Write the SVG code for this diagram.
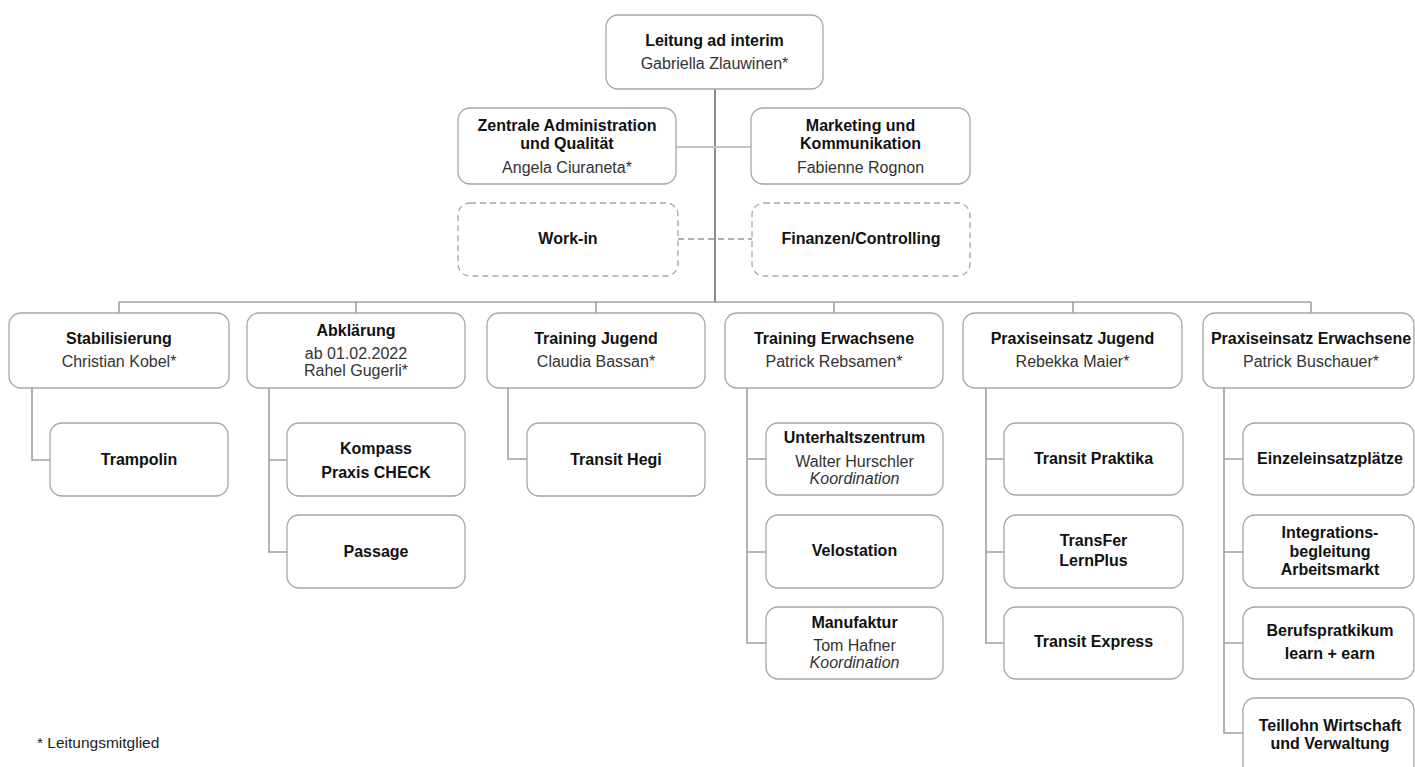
<svg xmlns="http://www.w3.org/2000/svg" width="1415" height="767" viewBox="0 0 1415 767">
<style>
.box{fill:#fff;stroke:#a6a6a6;stroke-width:1.3}
.dbox{fill:#fff;stroke:#a6a6a6;stroke-width:1.3;stroke-dasharray:6 4}
text{font-family:"Liberation Sans",Arial,sans-serif;font-size:16px;text-anchor:middle}
.b{font-weight:bold;fill:#111}
.n{fill:#333}
.i{fill:#333;font-style:italic}
.ln{fill:none;stroke:#a0a0a0;stroke-width:1.6}
</style>
<rect width="1415" height="767" fill="#fff"/>
<g id="connectors">
<path d="M715 89V302" fill="none" stroke="#8c8c8c" stroke-width="2"/>
<path d="M676 147H751" fill="none" stroke="#c4c4c4" stroke-width="2"/>
<path d="M678 239H752" fill="none" stroke="#b0b0b0" stroke-width="2" stroke-dasharray="6 4"/>
<path class="ln" d="M119 302H1311M119 302V313M356 302V313M596 302V313M834 302V313M1073 302V313M1311 302V313"/>
<path class="ln" d="M32 388V460H50"/>
<path class="ln" d="M269 388V552H287M269 460H287"/>
<path class="ln" d="M508 388V459H527"/>
<path class="ln" d="M747 388V643H766M747 459H766M747 552H766"/>
<path class="ln" d="M986 388V643H1004M986 459H1004M986 552H1004"/>
<path class="ln" d="M1224 388V733H1243M1224 459H1243M1224 552H1243M1224 643H1243"/>
</g>
<g id="leitung"><rect class="box" x="606" y="15" width="217" height="74" rx="12"/><text class="b" x="714.5" y="46">Leitung ad interim</text><text class="n" x="714.5" y="69">Gabriella Zlauwinen*</text></g>
<g id="zentrale"><rect class="box" x="458" y="108" width="218" height="76" rx="12"/><text class="b" x="567" y="131">Zentrale Administration</text><text class="b" x="567" y="149">und Qualität</text><text class="n" x="567" y="173">Angela Ciuraneta*</text></g>
<g id="marketing"><rect class="box" x="751" y="108" width="219" height="76" rx="12"/><text class="b" x="860.5" y="131">Marketing und</text><text class="b" x="860.5" y="149">Kommunikation</text><text class="n" x="860.5" y="173">Fabienne Rognon</text></g>
<g id="workin"><rect class="dbox" x="458" y="203" width="220" height="73" rx="12"/><text class="b" x="568" y="244">Work-in</text></g>
<g id="finanzen"><rect class="dbox" x="752" y="203" width="218" height="73" rx="12"/><text class="b" x="861" y="244">Finanzen/Controlling</text></g>
<g id="stabilisierung"><rect class="box" x="9" y="313" width="220" height="75" rx="12"/><text class="b" x="119" y="344">Stabilisierung</text><text class="n" x="119" y="367">Christian Kobel*</text></g>
<g id="abklaerung"><rect class="box" x="247" y="313" width="218" height="75" rx="12"/><text class="b" x="356" y="336">Abklärung</text><text class="n" x="356" y="359">ab 01.02.2022</text><text class="n" x="356" y="376">Rahel Gugerli*</text></g>
<g id="training-jugend"><rect class="box" x="487" y="313" width="218" height="75" rx="12"/><text class="b" x="596" y="344">Training Jugend</text><text class="n" x="596" y="367">Claudia Bassan*</text></g>
<g id="training-erwachsene"><rect class="box" x="725" y="313" width="218" height="75" rx="12"/><text class="b" x="834" y="344">Training Erwachsene</text><text class="n" x="834" y="367">Patrick Rebsamen*</text></g>
<g id="praxis-jugend"><rect class="box" x="963" y="313" width="219" height="75" rx="12"/><text class="b" x="1072.5" y="344">Praxiseinsatz Jugend</text><text class="n" x="1072.5" y="367">Rebekka Maier*</text></g>
<g id="praxis-erwachsene"><rect class="box" x="1203" y="313" width="211" height="75" rx="12"/><text class="b" x="1311" y="344">Praxiseinsatz Erwachsene</text><text class="n" x="1311" y="367">Patrick Buschauer*</text></g>
<g id="trampolin"><rect class="box" x="50" y="423" width="178" height="73" rx="12"/><text class="b" x="139" y="465">Trampolin</text></g>
<g id="kompass"><rect class="box" x="287" y="423" width="178" height="73" rx="12"/><text class="b" x="376" y="454">Kompass</text><text class="b" x="376" y="478">Praxis CHECK</text></g>
<g id="passage"><rect class="box" x="287" y="515" width="178" height="73" rx="12"/><text class="b" x="376" y="557">Passage</text></g>
<g id="transit-hegi"><rect class="box" x="527" y="423" width="178" height="73" rx="12"/><text class="b" x="616" y="465">Transit Hegi</text></g>
<g id="unterhaltszentrum"><rect class="box" x="766" y="423" width="177" height="72" rx="12"/><text class="b" x="854.5" y="443">Unterhaltszentrum</text><text class="n" x="854.5" y="467">Walter Hurschler</text><text class="i" x="854.5" y="484">Koordination</text></g>
<g id="velostation"><rect class="box" x="766" y="515" width="177" height="73" rx="12"/><text class="b" x="854.5" y="556">Velostation</text></g>
<g id="manufaktur"><rect class="box" x="766" y="607" width="177" height="72" rx="12"/><text class="b" x="854.5" y="628">Manufaktur</text><text class="n" x="854.5" y="651">Tom Hafner</text><text class="i" x="854.5" y="668">Koordination</text></g>
<g id="transit-praktika"><rect class="box" x="1004" y="423" width="179" height="72" rx="12"/><text class="b" x="1093.5" y="464">Transit Praktika</text></g>
<g id="transfer"><rect class="box" x="1004" y="515" width="179" height="73" rx="12"/><text class="b" x="1093.5" y="546">TransFer</text><text class="b" x="1093.5" y="566">LernPlus</text></g>
<g id="transit-express"><rect class="box" x="1004" y="607" width="179" height="72" rx="12"/><text class="b" x="1093.5" y="647">Transit Express</text></g>
<g id="einzeleinsatz"><rect class="box" x="1243" y="423" width="171" height="72" rx="12"/><text class="b" x="1330" y="464">Einzeleinsatzplätze</text></g>
<g id="integration"><rect class="box" x="1243" y="515" width="171" height="73" rx="12"/><text class="b" x="1330" y="538">Integrations-</text><text class="b" x="1330" y="557">begleitung</text><text class="b" x="1330" y="575">Arbeitsmarkt</text></g>
<g id="berufspraktikum"><rect class="box" x="1243" y="607" width="171" height="72" rx="12"/><text class="b" x="1330" y="636">Berufspratkikum</text><text class="b" x="1330" y="659">learn + earn</text></g>
<g id="teillohn"><rect class="box" x="1243" y="698" width="171" height="80" rx="12"/><text class="b" x="1330" y="731">Teillohn Wirtschaft</text><text class="b" x="1330" y="749">und Verwaltung</text></g>
<g id="legend"><text style="text-anchor:start;font-size:15.5px;fill:#222" x="37" y="748">* Leitungsmitglied</text></g>
</svg>
